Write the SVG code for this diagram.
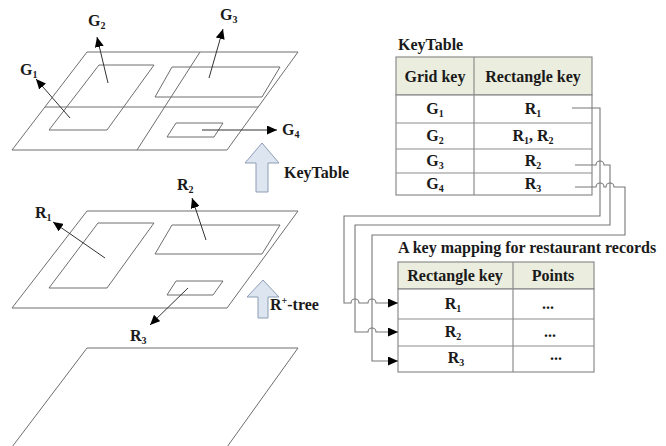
<svg xmlns="http://www.w3.org/2000/svg" width="666" height="446" viewBox="0 0 666 446">
<style>
.pl{fill:none;stroke:#6e6e6e;stroke-width:1}
.t{font-family:"Liberation Serif","Times New Roman",serif;font-weight:bold;font-size:16px;fill:#1a1a1a}
.c{text-anchor:middle}
.sub{font-size:10px}
.tb{fill:#fff;stroke:#8c8c8c;stroke-width:1.2}
.hd{fill:#ebedde;stroke:#8c8c8c;stroke-width:1.2}
.ln{stroke:#8c8c8c;stroke-width:1.2}
.ar{fill:none;stroke:#333;stroke-width:1;marker-end:url(#ah)}
.cn{fill:none;stroke:#777;stroke-width:1.1}
.cna{fill:none;stroke:#777;stroke-width:1.1;marker-end:url(#ah)}
.blk{fill:#dce5f0;stroke:#8d9db3;stroke-width:1}
</style>
<defs>
<marker id="ah" markerWidth="11" markerHeight="9" refX="10" refY="4.5" orient="auto" markerUnits="userSpaceOnUse"><path d="M0,0 L10,4.5 L0,9 z" fill="#000"/></marker>
</defs>

<g id="grid-plane">
<polygon class="pl" points="87,52 298,52 227,150 12,150"/>
<line class="pl" x1="45" y1="107" x2="258" y2="107"/>
<line class="pl" x1="200" y1="52" x2="137" y2="150"/>
<polygon class="pl" points="99,65 154,65 107,130 49,130"/>
<polygon class="pl" points="172,67 280,67 262,97 155,97"/>
<polygon class="pl" points="176,123 223,123 214,137 167,137"/>
</g>

<g id="rtree-plane">
<polygon class="pl" points="87,211 298,211 227,308 12,308"/>
<polygon class="pl" points="98,223 154,223 107,288 49,288"/>
<polygon class="pl" points="172,225 280,225 262,254 155,254"/>
<polygon class="pl" points="176,281 223,281 213,295 167,295"/>
</g>

<g id="base-plane">
<polygon class="pl" points="87,348 298,348 227,447 12,447"/>
</g>

<g id="label-G1"><text class="t" x="20" y="75">G<tspan class="sub" dy="3">1</tspan></text></g>
<g id="label-G2"><text class="t" x="88" y="26">G<tspan class="sub" dy="3">2</tspan></text></g>
<g id="label-G3"><text class="t" x="220" y="20">G<tspan class="sub" dy="3">3</tspan></text></g>
<g id="label-G4"><text class="t" x="282" y="135">G<tspan class="sub" dy="3">4</tspan></text></g>
<g id="label-R1"><text class="t" x="35" y="218">R<tspan class="sub" dy="3">1</tspan></text></g>
<g id="label-R2"><text class="t" x="177" y="190">R<tspan class="sub" dy="3">2</tspan></text></g>
<g id="label-R3"><text class="t" x="130" y="341">R<tspan class="sub" dy="3">3</tspan></text></g>

<g id="arrow-keytable">
<polygon class="blk" points="262,143 279,163 268,163 268,192 256,192 256,163 245,163"/>
<text class="t" x="284" y="178">KeyTable</text>
</g>
<g id="arrow-rtree">
<polygon class="blk" points="263,280 279,297 268,297 268,318 258,318 258,297 247,297"/>
<text class="t" x="270" y="310">R<tspan class="sub" dy="-6">+</tspan><tspan dy="6">-tree</tspan></text>
</g>

<g id="keytable">
<text class="t" x="398" y="50">KeyTable</text>
<rect class="hd" x="396" y="57" width="196" height="38"/>
<rect class="tb" x="396" y="95" width="196" height="100"/>
<line class="ln" x1="474" y1="57" x2="474" y2="195"/>
<line class="ln" x1="396" y1="123" x2="592" y2="123"/>
<line class="ln" x1="396" y1="149" x2="592" y2="149"/>
<line class="ln" x1="396" y1="173" x2="592" y2="173"/>
<text class="t c" x="435" y="82">Grid key</text>
<text class="t c" x="533" y="82">Rectangle key</text>
<text class="t c" x="435" y="114">G<tspan class="sub" dy="3">1</tspan></text>
<text class="t c" x="533" y="114">R<tspan class="sub" dy="3">1</tspan></text>
<text class="t c" x="435" y="141">G<tspan class="sub" dy="3">2</tspan></text>
<text class="t c" x="533" y="141">R<tspan class="sub" dy="3">1</tspan><tspan dy="-3">, R</tspan><tspan class="sub" dy="3">2</tspan></text>
<text class="t c" x="435" y="166">G<tspan class="sub" dy="3">3</tspan></text>
<text class="t c" x="533" y="166">R<tspan class="sub" dy="3">2</tspan></text>
<text class="t c" x="435" y="189">G<tspan class="sub" dy="3">4</tspan></text>
<text class="t c" x="533" y="189">R<tspan class="sub" dy="3">3</tspan></text>
</g>

<g id="mapping-table">
<text class="t" x="398" y="253">A key mapping for restaurant records</text>
<rect class="hd" x="398" y="262" width="196" height="27"/>
<rect class="tb" x="398" y="289" width="196" height="83"/>
<line class="ln" x1="513" y1="262" x2="513" y2="372"/>
<line class="ln" x1="398" y1="319" x2="594" y2="319"/>
<line class="ln" x1="398" y1="346" x2="594" y2="346"/>
<text class="t c" x="455" y="281">Rectangle key</text>
<text class="t c" x="553" y="281">Points</text>
<text class="t c" x="453" y="309">R<tspan class="sub" dy="3">1</tspan></text>
<text class="t c" x="548" y="309">...</text>
<text class="t c" x="453" y="337">R<tspan class="sub" dy="3">2</tspan></text>
<text class="t c" x="550" y="337">...</text>
<text class="t c" x="456" y="363">R<tspan class="sub" dy="3">3</tspan></text>
<text class="t c" x="556" y="360">...</text>
</g>

<g id="connectors">
<line class="ar" x1="70" y1="118" x2="36" y2="79"/>
<line class="ar" x1="108" y1="83" x2="97" y2="37"/>
<line class="ar" x1="209" y1="78" x2="223" y2="29"/>
<line class="ar" x1="202" y1="130" x2="277" y2="130"/>
<line class="ar" x1="105" y1="258" x2="53" y2="222"/>
<line class="ar" x1="206" y1="240" x2="192" y2="198"/>
<line class="ar" x1="188" y1="288" x2="150" y2="325"/>
<path class="cna" d="M572,108 H600 V216 H344 V303 H351 a4,4 0 0 1 8,0 H368 a4,4 0 0 1 8,0 H398"/>
<path class="cna" d="M575,165 H596 a4,4 0 0 1 8,0 H610 V225 H355 V332 H368 a4,4 0 0 1 8,0 H398"/>
<path class="cna" d="M575,187 H596 a4,4 0 0 1 8,0 H606 a4,4 0 0 1 8,0 H625 V235 H372 V361 H398"/>
</g>
</svg>
